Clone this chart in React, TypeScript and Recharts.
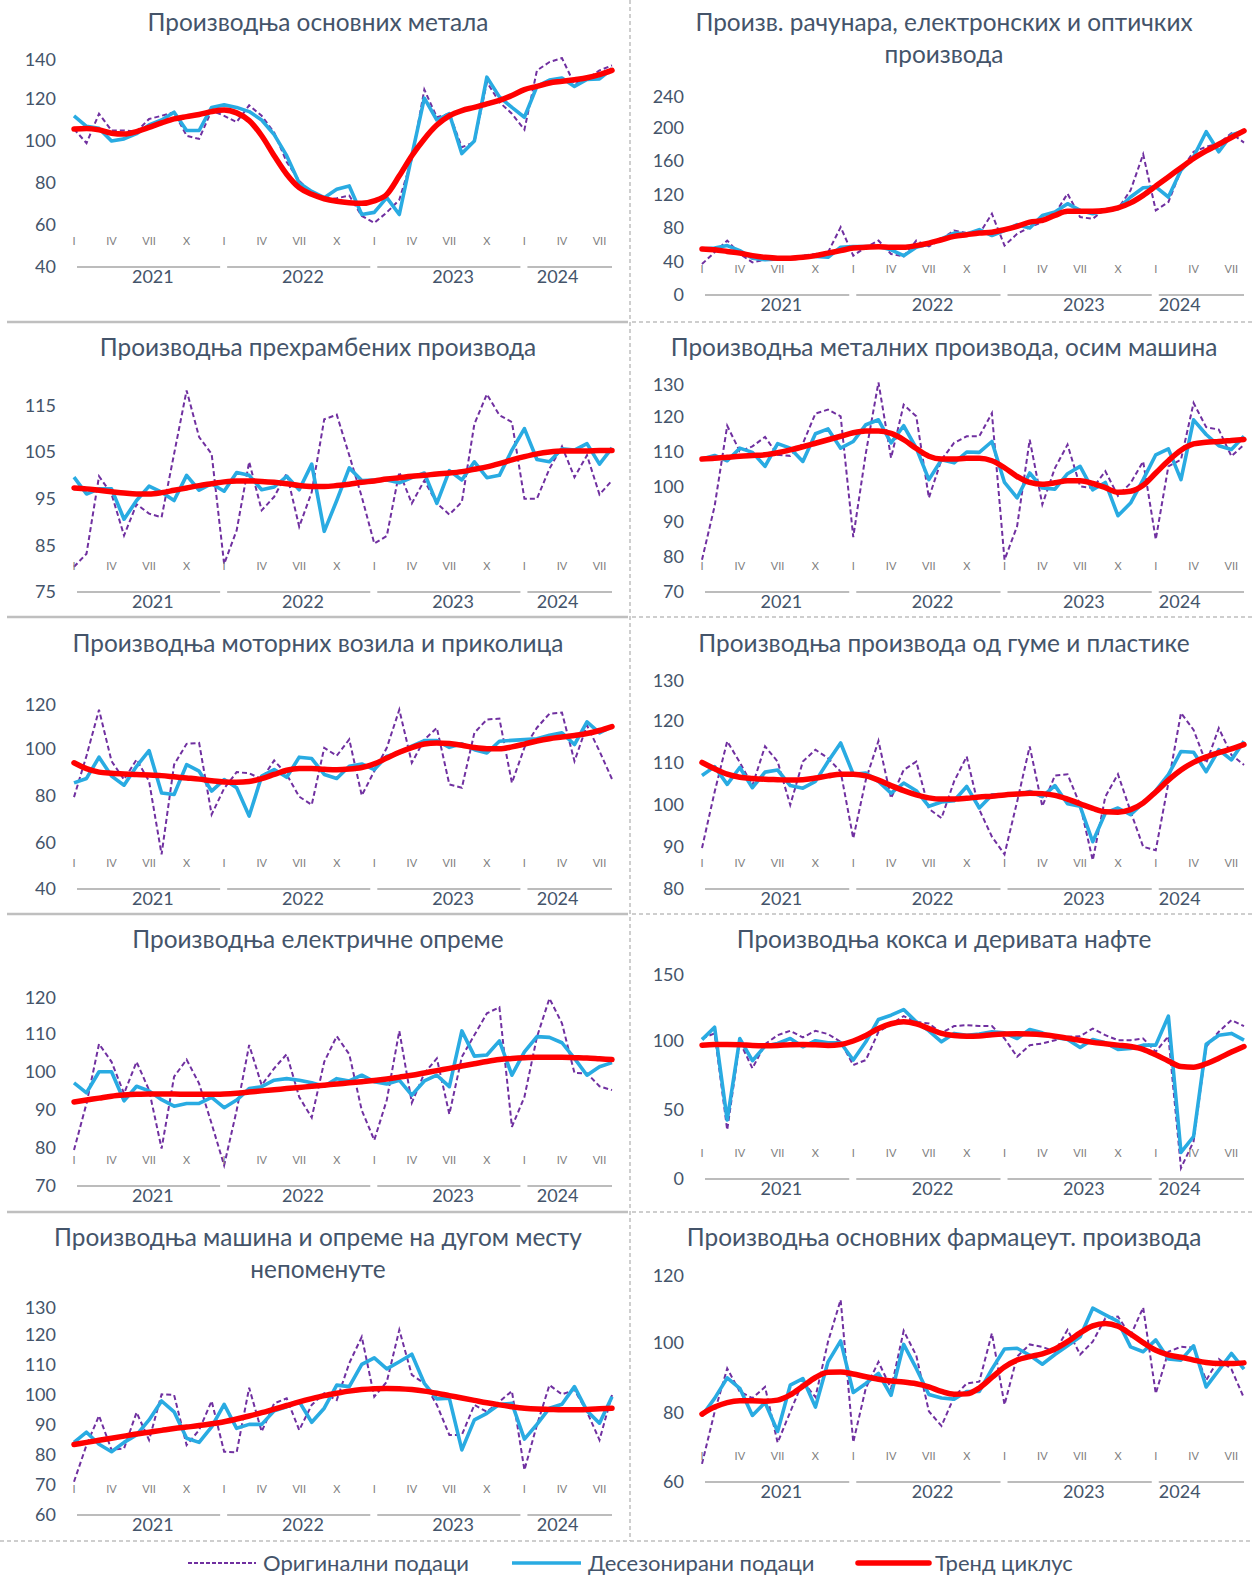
import React from 'react';
import { LineChart, Line, XAxis, YAxis } from 'recharts';

const years = [2021, 2022, 2023, 2024];
const monthsInYear = [12, 12, 12, 8];
const romanMonths = ['I', 'II', 'III', 'IV', 'V', 'VI', 'VII', 'VIII', 'IX', 'X', 'XI', 'XII'];
const shownMonths = ['I', 'IV', 'VII', 'X'];

const periods: string[] = [];
years.forEach((y, yi) => {
  for (let m = 0; m < monthsInYear[yi]; m++) periods.push(`${y}-${m}`);
});

// Производња основних метала
const metalsOrig = [105.7, 99, 113, 105, 105, 104.5, 110.5, 112, 113.7, 102.5, 101, 114.5, 112, 109, 117, 112, 104, 90, 81, 75.4, 72, 72.7, 74, 64.3, 61, 66, 72, 91.4, 124.5, 111.3, 113, 97, 99.4, 128, 118.5, 113, 105.4, 133.6, 137.6, 139.5, 127, 129.6, 133.6, 136];
const metalsSa = [112, 107, 106, 100, 101, 103.5, 107.6, 110, 113.7, 105, 105, 116, 117.2, 116, 114, 110, 103, 93, 80, 76, 73, 77, 78.6, 65, 66, 73, 65, 93, 120.4, 110, 113, 94, 100, 130.4, 121, 116, 111.3, 126, 129, 130, 126, 129.3, 129.6, 134.4];
const metalsTrend = [105.7, 106, 105.3, 103.7, 103.3, 104.5, 106.5, 108.6, 110.5, 111.6, 112.6, 114, 114.8, 113.4, 109.7, 102.5, 93, 84.2, 77.8, 74.6, 72.5, 71.3, 70.6, 70.3, 71.5, 74.6, 83.4, 93, 101, 107.6, 112, 114.5, 116, 117.7, 119.3, 121.7, 124.5, 126, 127.6, 128.4, 129.2, 130.1, 131.6, 133.6];

// Произв. рачунара, електронских и оптичких производа
const computersOrig = [37, 51, 65, 49, 39, 42, 44, 45, 47, 49, 51, 81, 47, 57, 65, 49, 46, 65, 58, 67, 77, 74, 73, 97, 59, 73, 81, 87, 97, 121, 93, 91, 103, 103, 125, 168, 101, 111, 149, 171, 177, 181, 193, 182];
const computersSa = [55, 56, 59, 53, 44, 42, 43, 43, 46, 46, 45, 57, 58, 58, 58, 54, 47, 57, 61, 67, 74, 73, 78, 71, 77, 84, 80, 95, 99, 109, 101, 97, 101, 103, 117, 128, 129, 117, 149, 165, 195, 171, 191, 196];
const computersTrend = [55, 54, 52, 50, 47, 45, 44, 44, 45, 47, 50, 53, 56, 57, 57.5, 57, 57, 59, 62, 66, 70, 72, 74, 75, 78, 82, 87, 89, 95, 100, 100, 100, 101, 104, 110, 119, 130, 141, 152, 163, 172, 180, 188, 196];

// Производња прехрамбених производа
const foodOrig = [80.4, 83.2, 99.8, 96, 87.1, 93.8, 91.8, 91, 104.6, 118.2, 108.2, 104.6, 81, 88.2, 102.9, 92.5, 95.4, 100.4, 89, 96.4, 112, 113, 104.3, 95.4, 85.4, 87, 100.7, 94, 98.9, 94, 91.6, 94.3, 111, 117.4, 112.9, 111.4, 95, 95, 101.4, 106.2, 99.6, 104.3, 95.9, 98.9];
const foodSa = [99.6, 96, 97.1, 97.1, 90.6, 94.6, 97.7, 96.4, 94.6, 100, 96.8, 98.2, 96.6, 100.6, 100, 96.9, 97.5, 99.8, 96.9, 102.4, 88, 94.6, 101.6, 98.9, 99, 99, 98.4, 99.5, 100.5, 94, 101, 99, 102.9, 99.5, 100, 105.4, 110, 103.4, 102.9, 105.7, 105.4, 106.8, 102.4, 105.9];
const foodTrend = [97.3, 97.1, 96.8, 96.5, 96.2, 96, 96, 96.3, 96.8, 97.3, 97.8, 98.2, 98.6, 98.8, 98.8, 98.7, 98.5, 98.2, 97.8, 97.6, 97.6, 97.8, 98.1, 98.5, 98.8, 99.2, 99.5, 99.8, 100, 100.3, 100.5, 100.8, 101.3, 101.8, 102.5, 103.3, 104, 104.6, 105, 105.2, 105.2, 105.2, 105.3, 105.3];

// Производња металних производа, осим машина
const metalProdOrig = [79.2, 94.5, 117.5, 110.2, 111.6, 114.3, 109.2, 108.9, 112.4, 121, 122.1, 120.2, 85.7, 109.7, 129.9, 108.3, 123.5, 120.2, 96.9, 107.8, 112.6, 114.5, 114.5, 121.1, 79.2, 88.8, 113.5, 95, 105.4, 112.1, 100.2, 99.7, 104.5, 97.5, 101.1, 107.3, 85, 105.9, 107.8, 124, 117.1, 116.4, 108.8, 112.1];
const metalProdSa = [108, 109, 107.5, 111.1, 109.9, 105.9, 112.4, 111.1, 107.3, 115.2, 116.6, 111.1, 113, 117.8, 119.2, 112.6, 117.5, 111.1, 102.1, 107.8, 106.9, 110, 109.9, 113, 101.3, 96.9, 104, 99.7, 99.4, 103.8, 105.9, 99.2, 101.3, 91.8, 95.4, 102.1, 109.2, 110.9, 102.1, 119.2, 115, 111.8, 110.7, 114.5];
const metalProdTrend = [108, 108.2, 108.5, 108.8, 109, 109.2, 109.8, 110.6, 111.5, 112.5, 113.5, 114.5, 115.5, 116, 116, 115.3, 113.5, 111, 108.8, 108, 108, 108.2, 108.2, 107.5, 105.5, 103, 101.3, 100.8, 101.2, 101.8, 101.8, 101, 99.8, 98.5, 98.8, 100.5, 104, 107.5, 110.5, 112.3, 112.8, 113, 113.3, 113.6];

// Производња моторних возила и приколица
const vehiclesOrig = [79.3, 97, 116.7, 94.7, 86.8, 95.4, 86.1, 54.8, 93.2, 102.1, 102.5, 71.9, 83, 90, 89.5, 87, 95, 89, 79.5, 76, 100.4, 97, 104, 80, 90.4, 100.4, 116.7, 94, 103.9, 108.9, 84.7, 83.3, 106.8, 112.5, 112.9, 85.4, 100.5, 109, 115, 115.5, 94.7, 110, 99, 87];
const vehiclesSa = [85.4, 87.3, 96.4, 88.3, 84.4, 92.5, 99.2, 81.1, 80.4, 93.2, 90.4, 81.9, 86.8, 83.3, 71.2, 88.3, 91.1, 87.8, 96.4, 95.8, 89, 87.3, 92.5, 93.5, 91.1, 96.8, 98.2, 101.1, 103.5, 103.5, 100.6, 102.1, 99.6, 98.2, 103.2, 103.6, 103.9, 104.3, 105.8, 106.8, 101.8, 111.5, 106.8, 109.6];
const vehiclesTrend = [94, 91.5, 90, 89.5, 89.2, 89, 88.8, 88.5, 88, 87.5, 87, 86.3, 85.8, 85.7, 86, 87.2, 89, 90.8, 91.5, 91.5, 91.2, 91, 91.3, 92, 93.5, 96, 98.5, 100.5, 102, 102.5, 102.2, 101.5, 100.5, 100, 100, 100.8, 102, 103.3, 104.3, 105, 105.7, 106.5, 107.8, 109.5];

// Производња производа од гуме и пластике
const rubberOrig = [89.7, 103, 115, 110, 104.5, 113.8, 110.2, 99.9, 110.2, 113, 111, 107.8, 92, 105.9, 115.1, 101.5, 108.2, 110.2, 99, 96.8, 105.5, 111.4, 98.8, 92.4, 88.2, 100.7, 113.8, 99.6, 106.9, 107.2, 99.9, 86.8, 101.9, 107.2, 98.4, 90, 89.2, 105.1, 121.7, 117.7, 109.8, 118.1, 111.8, 109.4];
const rubberSa = [106.9, 109, 104.8, 108.8, 104, 107.7, 108.2, 104.5, 103.9, 105.5, 110.2, 114.6, 107.2, 107.5, 105.5, 102.7, 105.1, 103.3, 99.6, 100.6, 100.9, 104.3, 99.2, 102.3, 102.3, 102.3, 103.1, 101.9, 104.5, 100.2, 99.6, 91.2, 98, 99.2, 97.6, 100.4, 103.3, 107.1, 112.6, 112.4, 107.8, 113, 110.6, 115];
const rubberTrend = [110, 108.5, 107.2, 106.5, 106.2, 106, 105.9, 105.8, 105.9, 106.3, 106.8, 107.2, 107.2, 106.8, 105.8, 104.5, 103.3, 102.3, 101.6, 101.3, 101.3, 101.5, 101.8, 102, 102.3, 102.5, 102.7, 102.6, 102.2, 101.3, 100.2, 99.1, 98.3, 98.2, 98.8, 100.4, 103, 105.8, 108.2, 110, 111.3, 112.3, 113.2, 114.2];

// Производња електричне опреме
const electricOrig = [79.4, 91.6, 107.2, 102.5, 94.2, 102.5, 95.1, 79.8, 98.6, 103.1, 96.8, 86.3, 75.4, 89.8, 106.9, 96.4, 100.8, 104.5, 93.3, 87.9, 102.5, 109.2, 104.5, 89.8, 82, 92.5, 110.6, 91.8, 99.5, 103.4, 88.8, 103.8, 109.5, 115.2, 116.8, 85.5, 93.3, 109, 119.1, 112.6, 99.6, 99.5, 96.1, 95.1];
const electricSa = [97, 94.4, 99.9, 99.9, 92.3, 96.1, 94.9, 92.6, 90.9, 91.6, 91.6, 93.2, 90.5, 92.5, 95.5, 96, 97.7, 98.1, 97.7, 97, 96.1, 98.1, 97.5, 99, 97.3, 96.7, 97.7, 93.8, 97.5, 99, 96, 110.6, 104, 104.3, 108, 99, 105.1, 109.1, 108.9, 107.5, 103.4, 99, 101.2, 102.3];
const electricTrend = [92, 92.5, 93, 93.5, 93.8, 94, 94.1, 94.1, 94.1, 94, 94, 94, 94.1, 94.3, 94.6, 94.9, 95.2, 95.5, 95.8, 96.1, 96.4, 96.7, 97, 97.3, 97.6, 98, 98.5, 99, 99.6, 100.2, 100.8, 101.4, 102, 102.6, 103.1, 103.4, 103.6, 103.7, 103.7, 103.7, 103.6, 103.5, 103.3, 103.1];

// Производња кокса и деривата нафте
const cokeOrig = [101.8, 105.5, 35.6, 99.4, 80.2, 97.7, 104.2, 107.4, 102.6, 107.4, 105, 99.4, 82.6, 86.2, 106.7, 112.2, 118, 113.9, 112.7, 105.9, 110.8, 111.5, 110.8, 110.8, 101.8, 88.6, 97, 98.2, 100.6, 103, 103.5, 109, 104.2, 100.6, 100.6, 101.8, 92.2, 103.5, 8, 27.2, 95.8, 106.7, 115.1, 110.8];
const cokeSa = [101, 110, 42.8, 101.8, 85.7, 96.3, 98.2, 101.8, 95.8, 100.2, 98.7, 98.7, 86.2, 99.4, 115.6, 118.7, 122.8, 113.9, 107.4, 99.4, 105.5, 104.2, 105, 106.7, 105.9, 101.8, 108.3, 105.9, 102.6, 101.1, 95.3, 101.1, 98.7, 93.9, 94.6, 97, 97, 118, 19.3, 30.8, 97.7, 104.2, 105.5, 100.6];
const cokeTrend = [97, 97.5, 97.5, 97.3, 96.8, 96.6, 96.8, 97.3, 97.5, 97.2, 96.8, 97.5, 100, 104, 109, 112.5, 114, 112.5, 109, 105.5, 104, 103.5, 103.7, 104.5, 105, 105.2, 105, 104.5, 103.5, 102, 100.5, 99, 98, 97, 96, 94, 90, 85.5, 81.5, 81, 83.5, 87.5, 92, 96];

// Производња машина и опреме на дугом месту непоменуте
const machineryOrig = [71.1, 83.3, 93.1, 81.7, 82.2, 94.2, 85, 100.2, 100, 83.3, 88.3, 98, 81.1, 80.9, 102.4, 87.8, 97.2, 98.9, 88.3, 96.7, 100.6, 98.3, 110.6, 119.4, 99.4, 104.4, 121.7, 106.7, 103.9, 96.7, 86.7, 86.7, 96.7, 94.4, 97.8, 101.3, 75, 90, 103.3, 100.2, 101.7, 94.4, 85, 100];
const machinerySa = [84.2, 87.6, 83.6, 81.1, 84.2, 86.7, 91.7, 98, 94.4, 85.6, 84.2, 89.4, 96.9, 88.9, 90.2, 90.2, 94.7, 96.1, 97.8, 90.9, 95.6, 103.3, 102.8, 110.2, 112.4, 108.7, 111.1, 113.6, 103.9, 98.7, 98.9, 81.7, 91.7, 93.9, 96.9, 97.2, 85.3, 90.2, 95.6, 96.9, 102.8, 94.7, 90.6, 99.4];
const machineryTrend = [83.5, 84.2, 84.9, 85.6, 86.3, 87, 87.6, 88.2, 88.8, 89.3, 89.8, 90.4, 91.1, 92, 93, 94.1, 95.3, 96.5, 97.7, 98.8, 99.8, 100.6, 101.3, 101.8, 102.1, 102.2, 102.1, 101.8, 101.3, 100.6, 99.8, 99, 98.2, 97.4, 96.7, 96.1, 95.6, 95.3, 95.2, 95.1, 95.1, 95.2, 95.4, 95.6];

// Производња основних фармацеут. производа
const pharmaOrig = [65.2, 80.1, 92.6, 85.9, 84.1, 87.3, 71.3, 80.1, 88.8, 84.4, 100.3, 112.3, 71.4, 87, 94.5, 86.8, 103.4, 96.3, 80.3, 76.1, 84.4, 88.3, 88.8, 102.7, 82.2, 96, 99.5, 98.8, 97.4, 103.7, 96.6, 100.3, 107, 107.5, 102, 110.1, 85.4, 97.4, 98.8, 98.6, 89.2, 95.3, 92.4, 84.1];
const pharmaSa = [79, 84, 89.9, 86.9, 79.1, 82.8, 74.5, 87.8, 89.7, 81.5, 94.5, 100.5, 85.7, 88.3, 91.2, 84.9, 99.5, 92.6, 85.1, 84.1, 83.8, 86, 86, 92.4, 98.2, 98.4, 96.4, 93.8, 96.6, 99.1, 101.7, 109.9, 108, 106.1, 98.8, 97.4, 100.8, 95.3, 95, 99.1, 87.3, 92.1, 96.9, 92.4];
const pharmaTrend = [79.5, 81.5, 82.8, 83.3, 83.3, 83.2, 83.5, 85, 87.5, 90, 91.5, 91.6, 91, 90.2, 89.5, 89, 88.7, 88.2, 87.3, 86, 85.2, 85.3, 87, 90, 93, 95, 96, 96.8, 98.2, 100.3, 102.8, 104.8, 105.5, 104.7, 102.5, 100, 97.8, 96.5, 95.8, 95, 94.3, 94, 94, 94.2];

const FONT = "Lato, 'Open Sans', sans-serif";
const TEXT = '#44546A';
const MONTH_TEXT = '#808080';
const ORIG_COLOR = '#7030A0';
const SA_COLOR = '#29ABE2';
const TREND_COLOR = '#FF0000';
const SEP = '#BFBFBF';

const PLOT_LEFT = 74;
const X_AXIS_H = 36;
const TOP_PAD = 8;

type PanelProps = {
  title: string[];
  orig: number[];
  sa: number[];
  trend: number[];
  left: number;
  width: number;
  rightMargin: number;
  lastYearShift: number;
  yTop: number;
  yBottom: number;
  domain: [number, number];
  ticks: number[];
  titleY: number;
};

const PeriodTick = (props: any) => {
  const { x, y, payload, step, lastYearShift } = props;
  const [yr, mm] = String(payload.value).split('-');
  const m = Number(mm);
  const n = monthsInYear[years.indexOf(Number(yr))];
  const roman = romanMonths[m];
  return (
    <g>
      {shownMonths.includes(roman) && (
        <text x={x} y={y - 22} textAnchor="middle" fontSize={11} fill={MONTH_TEXT} fontFamily={FONT}>
          {roman}
        </text>
      )}
      {m === 0 && (
        <>
          <line
            x1={x + 3}
            x2={n === 12 ? x + 12 * step - 4 : x + (n - 1) * step}
            y1={y}
            y2={y}
            stroke="#A6A6A6"
            strokeWidth={1.5}
          />
          <text
            x={x + step * (n === 12 ? 6.3 : lastYearShift)}
            y={y + 16}
            textAnchor="middle"
            fontSize={18}
            fill={TEXT}
            fontFamily={FONT}
          >
            {yr}
          </text>
        </>
      )}
    </g>
  );
};

const Panel: React.FC<PanelProps> = (p) => {
  const data = periods.map((period, i) => ({
    period,
    orig: p.orig[i],
    sa: p.sa[i],
    trend: p.trend[i]
  }));
  const plotH = p.yBottom - p.yTop;
  const height = TOP_PAD + plotH + X_AXIS_H;
  const step = (p.width - PLOT_LEFT - p.rightMargin) / (periods.length - 1);
  const center = p.left + (p.left === 0 ? 318 : 316);

  return (
    <>
      <div
        style={{
          position: 'absolute',
          left: center - 310,
          width: 620,
          top: p.titleY - 16,
          textAlign: 'center',
          fontFamily: FONT,
          fontSize: 24.4,
          lineHeight: '32px',
          color: TEXT,
          whiteSpace: 'nowrap'
        }}
      >
        {p.title.map((t, i) => (
          <div key={i}>{t}</div>
        ))}
      </div>
      <div style={{ position: 'absolute', left: p.left, top: p.yTop - TOP_PAD }}>
        <LineChart
          width={p.width}
          height={height}
          data={data}
          margin={{ top: TOP_PAD, right: p.rightMargin, bottom: 0, left: 0 }}
        >
          <XAxis
            dataKey="period"
            interval={0}
            axisLine={false}
            tickLine={false}
            tickSize={0}
            tickMargin={0}
            height={X_AXIS_H}
            tick={(t: any) => <PeriodTick {...t} step={step} lastYearShift={p.lastYearShift} />}
          />
          <YAxis
            width={PLOT_LEFT}
            domain={p.domain}
            ticks={p.ticks}
            axisLine={false}
            tickLine={false}
            tickSize={0}
            tickMargin={18}
            allowDataOverflow
            tick={{ fill: TEXT, fontSize: 18, fontFamily: FONT }}
          />
          <Line
            type="linear"
            dataKey="orig"
            stroke={ORIG_COLOR}
            strokeWidth={2}
            strokeDasharray="5 3"
            dot={false}
            isAnimationActive={false}
          />
          <Line
            type="linear"
            dataKey="sa"
            stroke={SA_COLOR}
            strokeWidth={3.6}
            strokeLinejoin="round"
            dot={false}
            isAnimationActive={false}
          />
          <Line
            type="monotone"
            dataKey="trend"
            stroke={TREND_COLOR}
            strokeWidth={5.5}
            strokeLinecap="round"
            dot={false}
            isAnimationActive={false}
          />
        </LineChart>
      </div>
    </>
  );
};

const L = { left: 0, width: 628, rightMargin: 16, lastYearShift: 2.65 };
const R = { left: 628, width: 624, rightMargin: 8, lastYearShift: 1.9 };

const rowLines = [322, 617, 914, 1212];

const App: React.FC = () => {
  return (
    <div style={{ position: 'absolute', left: 0, top: 0, width: 1252, height: 1576, background: '#fff', overflow: 'hidden' }}>
      <svg width={1252} height={1576} style={{ position: 'absolute', left: 0, top: 0 }}>
        <line x1={630} x2={630} y1={0} y2={1541} stroke={SEP} strokeWidth={1.5} strokeDasharray="4 3" />
        {rowLines.map((y) => (
          <g key={y}>
            <line x1={7} x2={628} y1={y} y2={y} stroke={SEP} strokeWidth={2.5} />
            <line x1={632} x2={1252} y1={y} y2={y} stroke={SEP} strokeWidth={1.5} strokeDasharray="4 3" />
          </g>
        ))}
        <line x1={0} x2={1252} y1={1541} y2={1541} stroke={SEP} strokeWidth={1.5} strokeDasharray="4 3" />
      </svg>

      <Panel {...L} title={['Производња основних метала']} titleY={22} orig={metalsOrig} sa={metalsSa} trend={metalsTrend}
        yTop={57} yBottom={267} domain={[40, 140]} ticks={[40, 60, 80, 100, 120, 140]} />
      <Panel {...R} title={['Произв. рачунара, електронских и оптичких', 'производа']} titleY={22} orig={computersOrig} sa={computersSa} trend={computersTrend}
        yTop={94} yBottom={295} domain={[0, 240]} ticks={[0, 40, 80, 120, 160, 200, 240]} />
      <Panel {...L} title={['Производња прехрамбених производа']} titleY={347} orig={foodOrig} sa={foodSa} trend={foodTrend}
        yTop={382} yBottom={592} domain={[75, 120]} ticks={[75, 85, 95, 105, 115]} />
      <Panel {...R} title={['Производња металних производа, осим машина']} titleY={347} orig={metalProdOrig} sa={metalProdSa} trend={metalProdTrend}
        yTop={382} yBottom={592} domain={[70, 130]} ticks={[70, 80, 90, 100, 110, 120, 130]} />
      <Panel {...L} title={['Производња моторних возила и приколица']} titleY={643} orig={vehiclesOrig} sa={vehiclesSa} trend={vehiclesTrend}
        yTop={702} yBottom={889} domain={[40, 120]} ticks={[40, 60, 80, 100, 120]} />
      <Panel {...R} title={['Производња производа од гуме и пластике']} titleY={643} orig={rubberOrig} sa={rubberSa} trend={rubberTrend}
        yTop={678} yBottom={889} domain={[80, 130]} ticks={[80, 90, 100, 110, 120, 130]} />
      <Panel {...L} title={['Производња електричне опреме']} titleY={939} orig={electricOrig} sa={electricSa} trend={electricTrend}
        yTop={995} yBottom={1186} domain={[70, 120]} ticks={[70, 80, 90, 100, 110, 120]} />
      <Panel {...R} title={['Производња кокса и деривата нафте']} titleY={939} orig={cokeOrig} sa={cokeSa} trend={cokeTrend}
        yTop={972} yBottom={1179} domain={[0, 150]} ticks={[0, 50, 100, 150]} />
      <Panel {...L} title={['Производња машина и опреме на дугом месту', 'непоменуте']} titleY={1237} orig={machineryOrig} sa={machinerySa} trend={machineryTrend}
        yTop={1305} yBottom={1515} domain={[60, 130]} ticks={[60, 70, 80, 90, 100, 110, 120, 130]} />
      <Panel {...R} title={['Производња основних фармацеут. производа']} titleY={1237} orig={pharmaOrig} sa={pharmaSa} trend={pharmaTrend}
        yTop={1273} yBottom={1482} domain={[60, 120]} ticks={[60, 80, 100, 120]} />

      <div style={{ position: 'absolute', left: 0, top: 1548, width: 1252, height: 30, fontFamily: FONT, fontSize: 22, color: TEXT }}>
        <svg width={1252} height={30} style={{ position: 'absolute', left: 0, top: 0 }}>
          <line x1={188} x2={256} y1={15} y2={15} stroke={ORIG_COLOR} strokeWidth={2} strokeDasharray="4 2" />
          <line x1={512} x2={581} y1={15} y2={15} stroke={SA_COLOR} strokeWidth={3.6} />
          <line x1={858} x2={929} y1={15} y2={15} stroke={TREND_COLOR} strokeWidth={5.5} strokeLinecap="round" />
        </svg>
        <span style={{ position: 'absolute', left: 263, top: 0, lineHeight: '30px' }}>Оригинални подаци</span>
        <span style={{ position: 'absolute', left: 588, top: 0, lineHeight: '30px' }}>Десезонирани подаци</span>
        <span style={{ position: 'absolute', left: 935, top: 0, lineHeight: '30px' }}>Тренд циклус</span>
      </div>
    </div>
  );
};

export default App;
